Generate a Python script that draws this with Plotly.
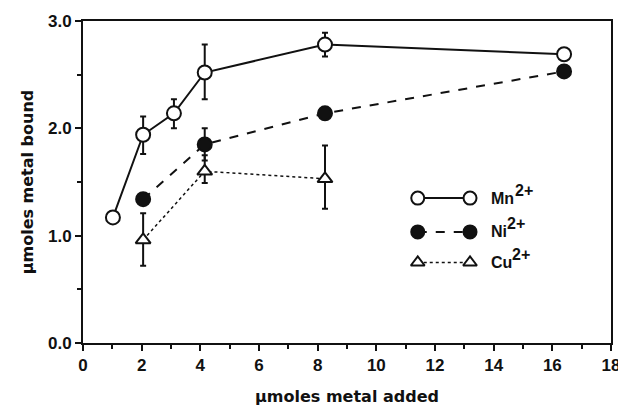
import plotly.graph_objects as go

# Data
mn_x = [1.02, 2.05, 3.1, 4.15, 8.25, 16.4]
mn_y = [1.17, 1.94, 2.14, 2.52, 2.78, 2.69]
mn_err_plus = [0.0, 0.17, 0.13, 0.26, 0.11, 0.0]
mn_err_minus = [0.0, 0.18, 0.14, 0.25, 0.11, 0.0]

ni_x = [2.05, 4.15, 8.25, 16.4]
ni_y = [1.34, 1.85, 2.14, 2.53]
ni_err_plus = [0.0, 0.15, 0.0, 0.0]
ni_err_minus = [0.0, 0.15, 0.0, 0.0]

cu_x = [2.05, 4.15, 8.25]
cu_y = [0.96, 1.60, 1.53]
cu_err_plus = [0.25, 0.15, 0.31]
cu_err_minus = [0.24, 0.11, 0.28]

legend_names = ["Mn", "Ni", "Cu"]
legend_charge = "2+"

FONT = "Liberation Sans, Arial, sans-serif"
TFONT = "DejaVu Sans, sans-serif"
BLACK = "#111111"

fig = go.Figure()

def add_series(x, y, ep, em, symbol, fill, dash, lw):
    fig.add_trace(go.Scatter(
        x=x, y=y, mode="lines+markers",
        line=dict(color=BLACK, width=lw, dash=dash),
        marker=dict(symbol=symbol, size=14 if symbol != "triangle-up" else 13,
                    color=fill, line=dict(color=BLACK, width=2)),
        error_y=dict(type="data", symmetric=False, array=ep, arrayminus=em,
                     color=BLACK, thickness=2, width=3),
        showlegend=False,
    ))

add_series(cu_x, cu_y, cu_err_plus, cu_err_minus, "triangle-up", "white", "dot", 1.5)
add_series(ni_x, ni_y, ni_err_plus, ni_err_minus, "circle", BLACK, "dash", 2)
add_series(mn_x, mn_y, mn_err_plus, mn_err_minus, "circle", "white", "solid", 2)

# Manual legend on overlay axes (0..1 box)
leg_styles = [("circle", "white", "solid", 2), ("circle", BLACK, "dash", 2),
              ("triangle-up", "white", "dot", 1.5)]
leg_rows = [0.45, 0.345, 0.25]
for name, (sym, fill, dash, lw), ry in zip(legend_names, leg_styles, leg_rows):
    fig.add_trace(go.Scatter(
        x=[0.634, 0.733], y=[ry, ry], xaxis="x2", yaxis="y2",
        mode="lines+markers",
        line=dict(color=BLACK, width=lw, dash=dash),
        marker=dict(symbol=sym, size=13 if sym != "triangle-up" else 12,
                    color=fill, line=dict(color=BLACK, width=2)),
        showlegend=False, hoverinfo="skip",
    ))
    fig.add_annotation(x=0.768, y=ry, xref="x2", yref="y2", text=name,
                       showarrow=False, xanchor="left", yanchor="middle",
                       font=dict(family=FONT, size=16, color=BLACK, weight="bold"))
    fig.add_annotation(x=0.768, y=ry, xref="x2", yref="y2", text=legend_charge,
                       showarrow=False, xanchor="left", yanchor="middle",
                       xshift=24 if name == "Mn" else (16 if name == "Ni" else 21),
                       yshift=8,
                       font=dict(family=FONT, size=16, color=BLACK, weight="bold"))

axis_common = dict(
    showgrid=False, zeroline=False, showline=True, linecolor=BLACK, linewidth=2,
    mirror=True, ticks="outside", tickcolor=BLACK, tickwidth=2, ticklen=6,
    automargin=False,
    tickfont=dict(family=FONT, size=17, color=BLACK, weight="bold"),
)

# page body has an 8px margin; figure sized/offset to compensate
fig.update_layout(
    width=618, height=398,
    margin=dict(l=75, r=15, t=13, b=63),
    paper_bgcolor="white", plot_bgcolor="white",
    xaxis=dict(range=[0, 18], tickvals=[0, 2, 4, 6, 8, 10, 12, 14, 16, 18],
               minor=dict(tickvals=[1, 3, 5, 7, 9, 11, 13, 15, 17], ticks="outside",
                          ticklen=4, tickwidth=2, tickcolor=BLACK),
               title=dict(text="μmoles metal added", standoff=18,
                          font=dict(family=TFONT, size=16, color=BLACK, weight="bold")),
               **axis_common),
    yaxis=dict(range=[0, 3], tickvals=[0, 1, 2, 3], ticktext=["0.0", "1.0", "2.0", "3.0"],
               minor=dict(tickvals=[0.5, 1.5, 2.5], ticks="outside",
                          ticklen=4, tickwidth=2, tickcolor=BLACK),
               title=dict(text="μmoles metal bound", standoff=10,
                          font=dict(family=TFONT, size=16, color=BLACK, weight="bold")),
               **axis_common),
    xaxis2=dict(range=[0, 1], overlaying="x", visible=False),
    yaxis2=dict(range=[0, 1], overlaying="y", visible=False),
)

fig.write_html("out.html")
